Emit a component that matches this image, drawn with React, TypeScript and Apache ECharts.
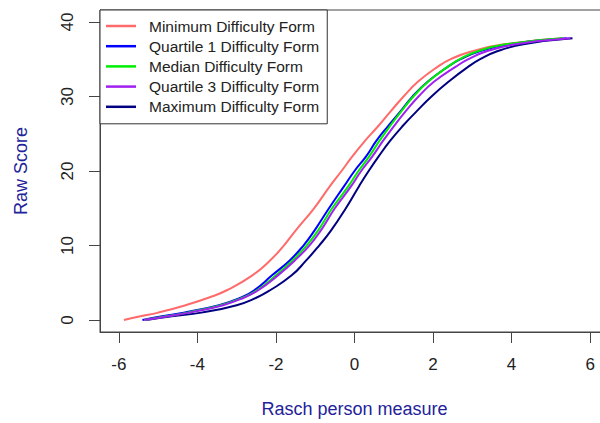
import React, { useEffect, useRef } from "react";
import * as echarts from "echarts";

const seriesNames = [
  "Minimum Difficulty Form",
  "Quartile 1 Difficulty Form",
  "Median Difficulty Form",
  "Quartile 3 Difficulty Form",
  "Maximum Difficulty Form",
];
const seriesColors = ["#ff6a6a", "#0000ff", "#00ee00", "#a020f0", "#000080"];

const rawScores = [0, 0.5, 1, 2, 3, 4, 6, 8, 10, 12, 15, 18, 20, 22, 24, 26, 28, 30, 32, 34, 35, 36, 37, 37.8];

const minForm = [-5.87, -5.45, -5.0, -4.3, -3.72, -3.25, -2.6, -2.15, -1.8, -1.5, -1.03, -0.62, -0.33, -0.05, 0.26, 0.6, 0.92, 1.25, 1.62, 2.12, 2.45, 2.95, 3.8, 5.3];
const q1Form = [-5.4, -4.9, -4.35, -3.45, -2.9, -2.55, -2.1, -1.65, -1.3, -1.02, -0.65, -0.26, 0.0, 0.3, 0.55, 0.85, 1.17, 1.48, 1.87, 2.38, 2.7, 3.15, 3.95, 5.4];
const medianForm = [-5.35, -4.8, -4.25, -3.4, -2.85, -2.48, -2.0, -1.58, -1.22, -0.93, -0.57, -0.15, 0.1, 0.38, 0.63, 0.9, 1.19, 1.5, 1.88, 2.38, 2.68, 3.1, 3.85, 5.3];
const q3Form = [-5.35, -4.75, -4.2, -3.35, -2.82, -2.45, -1.95, -1.52, -1.15, -0.86, -0.5, -0.08, 0.17, 0.46, 0.72, 1.0, 1.3, 1.63, 2.03, 2.58, 2.9, 3.33, 4.1, 5.5];
const maxForm = [-5.3, -4.65, -3.9, -3.0, -2.5, -2.15, -1.6, -1.23, -0.9, -0.6, -0.22, 0.12, 0.36, 0.62, 0.9, 1.22, 1.58, 1.96, 2.4, 2.9, 3.2, 3.6, 4.3, 5.55];

const xTicks = [-6, -4, -2, 0, 2, 4, 6];
const yTicks = [0, 10, 20, 30, 40];

const allForms = [minForm, q1Form, medianForm, q3Form, maxForm];
const drawOrder = [1, 2, 4, 5, 3];

const FONT = "'Liberation Sans', Arial, sans-serif";

export default function App() {
  const ref = useRef<HTMLDivElement>(null);
  useEffect(() => {
    if (!ref.current) return;
    const chart = echarts.init(ref.current, undefined, { renderer: "svg" });
    const axisColor = "#444";
    chart.setOption({
      animation: false,
      backgroundColor: "#ffffff",
      grid: {
        left: 100,
        top: 10,
        width: 509,
        height: 322,
        show: true,
        borderColor: axisColor,
        borderWidth: 1,
        backgroundColor: "transparent",
      },
      legend: {
        left: 100,
        top: 10,
        orient: "vertical",
        data: seriesNames,
        icon: "rect",
        itemWidth: 30,
        itemHeight: 2.5,
        itemGap: 4.2,
        padding: [8, 8, 9, 6],
        borderColor: "#333",
        borderWidth: 1,
        backgroundColor: "#ffffff",
        selectedMode: false,
        textStyle: {
          fontFamily: FONT,
          fontSize: 15.5,
          lineHeight: 15.5,
          color: "#222",
          padding: [0, 0, 0, 8],
        },
      },
      xAxis: {
        type: "value",
        min: -6.48,
        max: 6.48,
        name: "Rasch person measure",
        nameLocation: "middle",
        nameGap: 68,
        nameTextStyle: { fontFamily: FONT, fontSize: 18, color: "#22229a" },
        splitLine: { show: false },
        axisLine: { show: true, onZero: false, lineStyle: { color: axisColor, width: 1 } },
        axisTick: {
          show: true,
          inside: false,
          length: 11,
          customValues: xTicks,
          lineStyle: { color: axisColor, width: 1 },
        },
        axisLabel: {
          customValues: xTicks,
          margin: 24,
          fontFamily: FONT,
          fontSize: 17,
          color: "#222",
        },
      },
      yAxis: {
        type: "value",
        min: -1.6,
        max: 41.6,
        name: "Raw Score",
        nameLocation: "middle",
        nameGap: 70,
        nameTextStyle: { fontFamily: FONT, fontSize: 18, color: "#22229a" },
        splitLine: { show: false },
        axisLine: { show: true, onZero: false, lineStyle: { color: axisColor, width: 1 } },
        axisTick: {
          show: true,
          inside: false,
          length: 11,
          customValues: yTicks,
          lineStyle: { color: axisColor, width: 1 },
        },
        axisLabel: {
          customValues: yTicks,
          rotate: 90,
          margin: 24,
          fontFamily: FONT,
          fontSize: 17,
          color: "#222",
        },
      },
      series: allForms.map((form, i) => ({
        name: seriesNames[i],
        type: "line",
        data: form.map((m, k) => [m, rawScores[k]]),
        showSymbol: false,
        symbol: "none",
        smooth: 0.5,
        z: drawOrder[i],
        lineStyle: { color: seriesColors[i], width: 2 },
        itemStyle: { color: seriesColors[i] },
      })),
    });
    return () => chart.dispose();
  }, []);
  return (
    <div
      style={{
        position: "fixed",
        left: 0,
        top: 0,
        width: 600,
        height: 423,
        overflow: "hidden",
        background: "#fff",
      }}
    >
      <div ref={ref} style={{ width: 620, height: 423 }} />
    </div>
  );
}
